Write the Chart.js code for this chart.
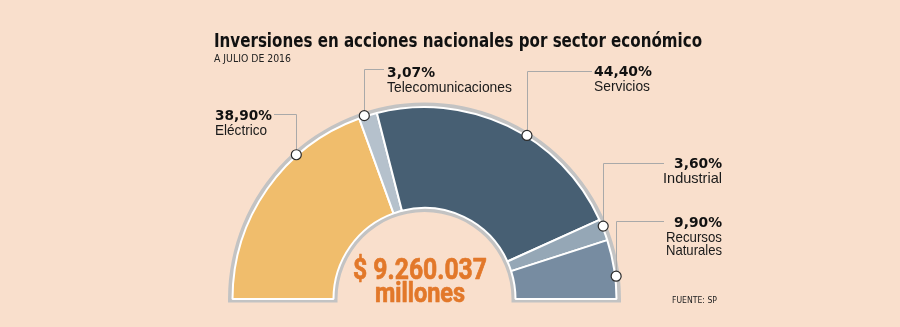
<!DOCTYPE html>
<html>
<head>
<meta charset="utf-8">
<script src="https://cdn.jsdelivr.net/npm/chart.js@4"></script>
<style>
    html, body { margin: 0; padding: 0; background: #f9dfcc; }
    #wrap { width: 900px; height: 327px; position: relative; }
</style>
</head>
<body>
<div id="wrap"><canvas id="chart"></canvas></div>
<script>
// data
const sectors = ["Eléctrico", "Telecomunicaciones", "Servicios", "Industrial", "Recursos Naturales"];
const shares = [38.90, 3.07, 44.40, 3.60, 9.90];
const totalText = "$ 9.260.037";
const unitText = "millones";

const colors = ["#f0bd6c", "#b5c1cc", "#475f73", "#95a7b6", "#778ca1"];

// label layout: text position, leader start and where the leader meets the slice (0..1)
const labelLayout = [
    { x: 215, y: 120, align: "left",  lx: 274, ly: 114, frac: 0.69 },
    { x: 387, y: 77,  align: "left",  lx: 384, ly: 69,  frac: 0.31 },
    { x: 594, y: 76,  align: "left",  lx: 592, ly: 71,  frac: 0.58 },
    { x: 722, y: 168, align: "right", lx: 664, ly: 163, frac: 0.33 },
    { x: 722, y: 227, align: "right", lx: 664, ly: 221, frac: 0.62 }
];

function pct(v) {
    return v.toFixed(2).replace(".", ",") + "%";
}

// draw text squeezed/stretched to a given width
function fitText(ctx, text, x, y, w, font, align, color, stroke) {
    ctx.save();
    ctx.font = font;
    ctx.fillStyle = color;
    ctx.textAlign = "left";
    ctx.textBaseline = "alphabetic";
    const m = ctx.measureText(text).width;
    const x0 = align === "right" ? x - w : align === "center" ? x - w / 2 : x;
    ctx.translate(x0, y);
    ctx.scale(w / m, 1);
    ctx.fillText(text, 0, 0);
    if (stroke) {
        ctx.strokeStyle = color;
        ctx.lineWidth = stroke;
        ctx.lineJoin = "round";
        ctx.strokeText(text, 0, 0);
    }
    ctx.restore();
}

const backing = {
    id: "backing",
    beforeDatasetsDraw(chart) {
        const ctx = chart.ctx;
        const arc = chart.getDatasetMeta(0).data[0];
        const x = arc.x, y = arc.y;
        const ro = arc.outerRadius + 4.5;
        const ri = arc.innerRadius - 4;
        const b = 3.5;
        ctx.save();
        ctx.beginPath();
        ctx.moveTo(x - ro, y + b);
        ctx.lineTo(x - ro, y);
        ctx.arc(x, y, ro, Math.PI, 2 * Math.PI);
        ctx.lineTo(x + ro, y + b);
        ctx.lineTo(x + ri, y + b);
        ctx.lineTo(x + ri, y);
        ctx.arc(x, y, ri, 0, Math.PI, true);
        ctx.lineTo(x - ri, y + b);
        ctx.closePath();
        ctx.fillStyle = "#c3c3c3";
        ctx.fill();
        ctx.restore();
    }
};

const widths = {
    pct: [57, 48, 58, 48, 48],
    name: [[52], [125], [56], [59], [56, 56]]
};

const annotations = {
    id: "annotations",
    afterDraw(chart) {
        const ctx = chart.ctx;
        const arcs = chart.getDatasetMeta(0).data;

        // title
        fitText(ctx, "Inversiones en acciones nacionales por sector económico", 214, 47, 488,
            "bold 19px 'DejaVu Sans'", "left", "#111");
        fitText(ctx, "A JULIO DE 2016", 214, 62, 77, "10px 'DejaVu Sans'", "left", "#222");

        // leaders, dots and labels
        sectors.forEach((name, i) => {
            const a = arcs[i];
            const L = labelLayout[i];
            const ang = a.startAngle + L.frac * (a.endAngle - a.startAngle);
            const r = a.outerRadius + 1;
            const dx = a.x + r * Math.cos(ang);
            const dy = a.y + r * Math.sin(ang);

            ctx.save();
            ctx.strokeStyle = "#a9a9a9";
            ctx.lineWidth = 1;
            ctx.beginPath();
            ctx.moveTo(L.lx, L.ly + 0.5);
            ctx.lineTo(Math.round(dx) + 0.5, L.ly + 0.5);
            ctx.lineTo(Math.round(dx) + 0.5, dy);
            ctx.stroke();

            ctx.beginPath();
            ctx.arc(dx, dy, 5, 0, 2 * Math.PI);
            ctx.fillStyle = "#fff";
            ctx.fill();
            ctx.strokeStyle = "#2b2b2b";
            ctx.lineWidth = 1.2;
            ctx.stroke();
            ctx.restore();

            fitText(ctx, pct(shares[i]), L.x, L.y, widths.pct[i], "bold 14.5px 'DejaVu Sans'", L.align, "#111");
            const lines = name === "Recursos Naturales" ? ["Recursos", "Naturales"] : [name];
            lines.forEach((t, k) => {
                fitText(ctx, t, L.x, L.y + 14.5 + k * 13, widths.name[i][k], "14.5px 'Liberation Sans'", L.align, "#1a1a1a");
            });
        });

        // center total
        fitText(ctx, totalText, 420, 279, 134, "bold 30px Roboto", "center", "#e2782a", 0.7);
        fitText(ctx, unitText, 420, 302, 90, "bold 27px Roboto", "center", "#e2782a", 0.7);

        // source
        fitText(ctx, "FUENTE: SP", 717, 303, 45, "9px 'DejaVu Sans'", "right", "#222");
    }
};

new Chart(document.getElementById("chart"), {
    type: "doughnut",
    data: {
        labels: sectors,
        datasets: [{
            data: shares,
            backgroundColor: colors,
            borderColor: "#ffffff",
            borderWidth: 2,
            hoverOffset: 0
        }]
    },
    options: {
        responsive: true,
        maintainAspectRatio: false,
        animation: false,
        rotation: -90,
        circumference: 180,
        cutout: "47.4%",
        layout: {
            padding: { left: 224.5, right: 275.5, top: 106, bottom: 27 }
        },
        plugins: {
            legend: { display: false },
            tooltip: { enabled: false }
        }
    },
    plugins: [backing, annotations]
});
</script>
</body>
</html>
